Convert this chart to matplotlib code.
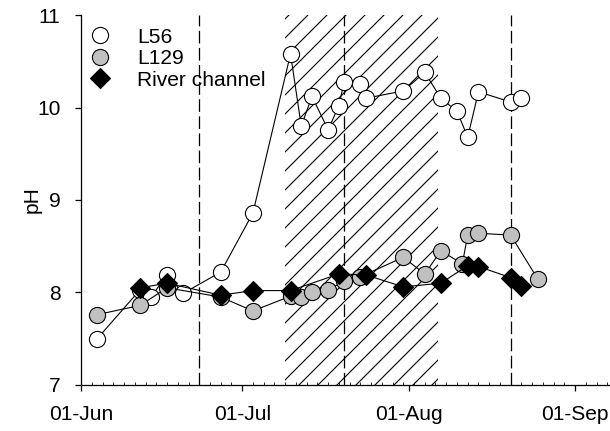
import numpy as np
import pandas as pd
import matplotlib
matplotlib.use('Agg')
import matplotlib.pyplot as plt
import matplotlib.dates as mdates
from matplotlib.lines import Line2D
from matplotlib.ticker import FixedLocator

plt.rcParams['font.family'] = ['Liberation Sans', 'DejaVu Sans']
plt.rcParams['hatch.linewidth'] = 0.7

# pH 측정값 (2010년 여름)
l56_dates = ['06-04', '06-12', '06-14', '06-17', '06-20', '06-27', '07-03', '07-10',
             '07-12', '07-14', '07-17', '07-19', '07-20', '07-23', '07-24', '07-31',
             '08-04', '08-07', '08-10', '08-12', '08-14', '08-20', '08-22']
l56_ph = [7.50, 8.03, 7.95, 8.19, 7.99, 8.22, 8.86, 10.58,
          9.80, 10.12, 9.76, 10.02, 10.28, 10.25, 10.10, 10.18,
          10.38, 10.10, 9.96, 9.68, 10.17, 10.06, 10.10]

l129_dates = ['06-04', '06-12', '06-17', '06-27', '07-03', '07-10', '07-12', '07-14',
              '07-17', '07-20', '07-23', '07-31', '08-04', '08-07', '08-11', '08-12',
              '08-14', '08-20', '08-25']
l129_ph = [7.76, 7.86, 8.05, 7.95, 7.80, 7.96, 7.95, 8.00,
           8.03, 8.12, 8.17, 8.38, 8.20, 8.45, 8.31, 8.62,
           8.64, 8.62, 8.15]

river_dates = ['06-12', '06-17', '06-27', '07-03', '07-10', '07-19', '07-24', '07-31',
               '08-07', '08-12', '08-14', '08-20', '08-22']
river_ph = [8.05, 8.10, 7.97, 8.02, 8.02, 8.20, 8.19, 8.06,
            8.10, 8.29, 8.28, 8.16, 8.07]

event_dates = ['06-23', '07-20', '08-20']             # 점선 표시일
shade_period = ['07-09 00:00', '08-06 12:00']         # 빗금 구간
xlim_dates = ['06-01 00:00', '09-07 12:00']


def to_dt(lst):
    return pd.to_datetime(['2010-' + d for d in lst], format='mixed')


fig = plt.figure(figsize=(610 / 114, 431 / 114), dpi=114)
ax = fig.add_axes([0.133, 0.107, 0.867, 0.858])

s0, s1 = to_dt(shade_period)
ax.axvspan(s0, s1, facecolor='none', edgecolor='black', hatch='//', linewidth=0, zorder=1)
for d in to_dt(event_dates):
    ax.axvline(d, color='black', lw=0.8, dashes=(10, 3.5), zorder=1.5)

lw = 0.7
ax.plot(to_dt(l56_dates), l56_ph, '-o', color='black', lw=lw, ms=10.2,
        mfc='white', mec='black', mew=0.7, zorder=3)
ax.plot(to_dt(l129_dates), l129_ph, '-o', color='black', lw=lw, ms=10.2,
        mfc='#c0c0c0', mec='black', mew=0.7, zorder=4)
ax.plot(to_dt(river_dates), river_ph, '-D', color='black', lw=lw, ms=9,
        mfc='black', mec='black', mew=0.7, zorder=5)

x0, x1 = to_dt(xlim_dates)
ax.set_xlim(x0, x1)
ax.set_ylim(7, 11)
ax.set_yticks([7, 8, 9, 10, 11])
ax.xaxis.set_major_locator(mdates.MonthLocator())
ax.xaxis.set_major_formatter(mdates.DateFormatter('%d-%b'))
minor_days = pd.date_range(x0, x1, freq='2D')
ax.xaxis.set_minor_locator(FixedLocator(mdates.date2num(minor_days)))

ax.spines['top'].set_visible(False)
ax.spines['right'].set_visible(False)
for sp in ('left', 'bottom'):
    ax.spines[sp].set_linewidth(0.8)
ax.tick_params(axis='both', which='major', direction='out', length=4, width=0.8,
               labelsize=13.3)
ax.tick_params(axis='x', which='major', pad=8.5)
ax.tick_params(axis='y', which='major', pad=9)
ax.tick_params(axis='x', which='minor', direction='in', length=2, width=0.5)
ax.set_ylabel('pH', fontsize=13.3, labelpad=-3)

handles = [
    Line2D([], [], ls='none', marker='o', ms=10.2, mfc='white', mec='black', mew=0.7),
    Line2D([], [], ls='none', marker='o', ms=10.2, mfc='#c0c0c0', mec='black', mew=0.7),
    Line2D([], [], ls='none', marker='D', ms=9, mfc='black', mec='black', mew=0.7),
]
ax.legend(handles, ['L56', 'L129', 'River channel'], loc='upper left', frameon=False,
          fontsize=13.3, labelspacing=0.12, handlelength=1.0, handletextpad=1.25,
          borderpad=0, borderaxespad=0, bbox_to_anchor=(0.016, 0.966))

fig.savefig('out.png', dpi=114)
